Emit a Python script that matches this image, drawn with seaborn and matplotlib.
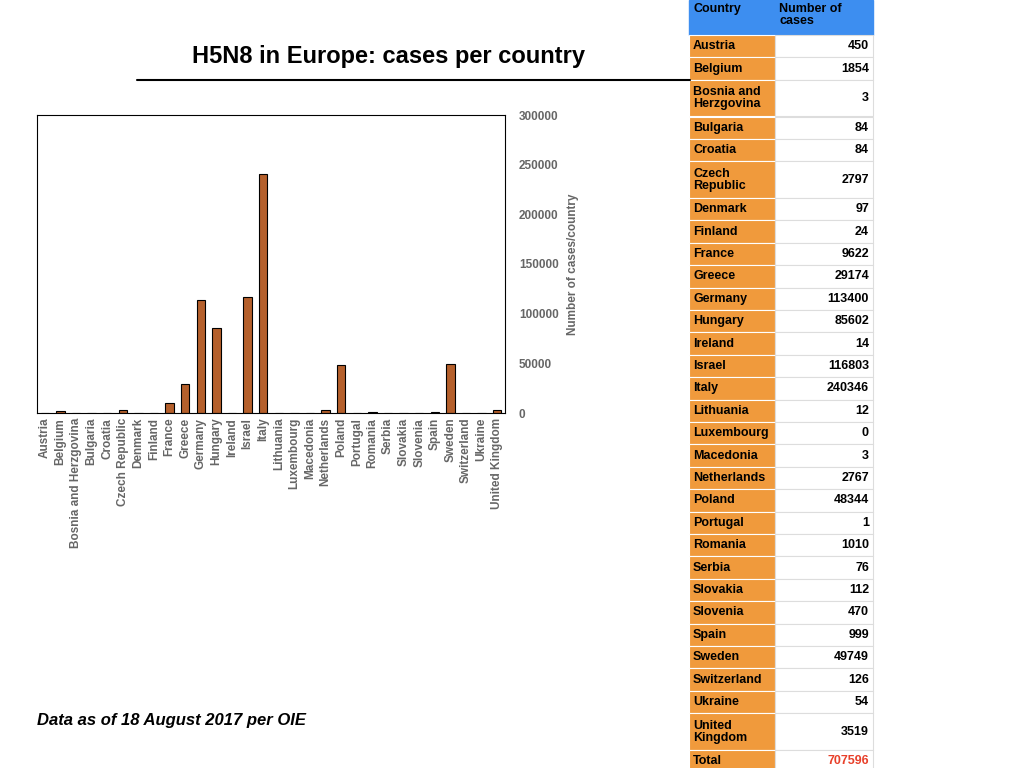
import numpy as np
import pandas as pd
import seaborn as sns
import matplotlib.pyplot as plt
from matplotlib.patches import Rectangle

# chart data
countries = ['Austria', 'Belgium', 'Bosnia and Herzgovina', 'Bulgaria', 'Croatia', 'Czech Republic',
             'Denmark', 'Finland', 'France', 'Greece', 'Germany', 'Hungary', 'Ireland', 'Israel',
             'Italy', 'Lithuania', 'Luxembourg', 'Macedonia', 'Netherlands', 'Poland', 'Portugal',
             'Romania', 'Serbia', 'Slovakia', 'Slovenia', 'Spain', 'Sweden', 'Switzerland',
             'Ukraine', 'United Kingdom']
cases = [450, 1854, 3, 84, 84, 2797, 97, 24, 9622, 29174, 113400, 85602, 14, 116803, 240346,
         12, 0, 3, 2767, 48344, 1, 1010, 76, 112, 470, 999, 49749, 126, 54, 3519]
# table names (some wrap over two lines)
table_names = ['Austria', 'Belgium', 'Bosnia and\nHerzgovina', 'Bulgaria', 'Croatia', 'Czech\nRepublic',
               'Denmark', 'Finland', 'France', 'Greece', 'Germany', 'Hungary', 'Ireland', 'Israel',
               'Italy', 'Lithuania', 'Luxembourg', 'Macedonia', 'Netherlands', 'Poland', 'Portugal',
               'Romania', 'Serbia', 'Slovakia', 'Slovenia', 'Spain', 'Sweden', 'Switzerland',
               'Ukraine', 'United\nKingdom']

df = pd.DataFrame({'Country': countries, 'Cases': cases})

sns.set_style('white')
plt.rcParams['font.family'] = ['Liberation Sans', 'DejaVu Sans']
plt.rcParams['text.color'] = 'black'

fig = plt.figure(figsize=(10.24, 7.68), dpi=100)
W, H = 1024, 768
ax = fig.add_axes([37 / W, (H - 413) / H, 468 / W, 298 / H])
sns.barplot(data=df, x='Country', y='Cases', color='#b5602c', edgecolor='black',
            linewidth=0.8, width=0.55, saturation=1, ax=ax)
ax.set_ylim(0, 300000)
ax.set_xlim(-0.5, len(countries) - 0.5)
ax.yaxis.tick_right()
ax.yaxis.set_label_position('right')
ax.set_yticks(range(0, 300001, 50000))
ax.tick_params(axis='y', length=0, pad=10, labelsize=8.5, labelcolor='#666666')
ax.tick_params(axis='x', length=0, labelsize=8.5, labelcolor='#666666', rotation=90)
for t in ax.get_xticklabels() + ax.get_yticklabels():
    t.set_fontweight('bold')
ax.set_xlabel('')
ax.set_ylabel('Number of cases/country', fontsize=8.5, color='#666666', fontweight='bold', labelpad=6)
for s in ax.spines.values():
    s.set_color('black')
    s.set_linewidth(0.8)

# overlay for title, rule, footnote and table (pixel coordinates)
ov = fig.add_axes([0, 0, 1, 1], zorder=-1)
ov.set_xlim(0, W)
ov.set_ylim(H, 0)
ov.axis('off')
ov.text(388, 56, 'H5N8 in Europe: cases per country', ha='center', va='center',
        fontsize=17, fontweight='bold', color='black')
ov.plot([137, 690], [80, 80], color='black', lw=1.5)
ov.text(37, 720, 'Data as of 18 August 2017 per OIE', ha='left', va='center',
        fontsize=12, fontweight='bold', style='italic', color='black')

x0, xm, x1 = 689, 775, 873
ov.add_patch(Rectangle((x0, 0), x1 - x0, 35, color='#3d8ef0'))
ov.text(x0 + 4, 3, 'Country', color='black', fontsize=9, fontweight='bold', va='top')
ov.text(xm + 4, 3, 'Number of\ncases', color='black', fontsize=9, fontweight='bold', va='top',
        linespacing=1.0)
y = 35
rows = list(zip(table_names, [str(c) for c in cases])) + [('Total', str(sum(cases)))]
for name, val in rows:
    h = 36.7 if '\n' in name else 22.4
    ov.add_patch(Rectangle((x0, y), xm - x0, h, facecolor='#f09a3c', edgecolor='white', lw=0.8))
    ov.add_patch(Rectangle((xm, y), x1 - xm, h, facecolor='white', edgecolor='#dddddd', lw=0.8))
    ov.text(x0 + 4, y + h / 2, name, fontsize=9, fontweight='bold', va='center', linespacing=1.0,
            color='black')
    ov.text(x1 - 4, y + h / 2, val, fontsize=9, fontweight='bold', va='center', ha='right',
            color='#e8402a' if name == 'Total' else 'black')
    y += h

fig.savefig('out.png', dpi=100)
